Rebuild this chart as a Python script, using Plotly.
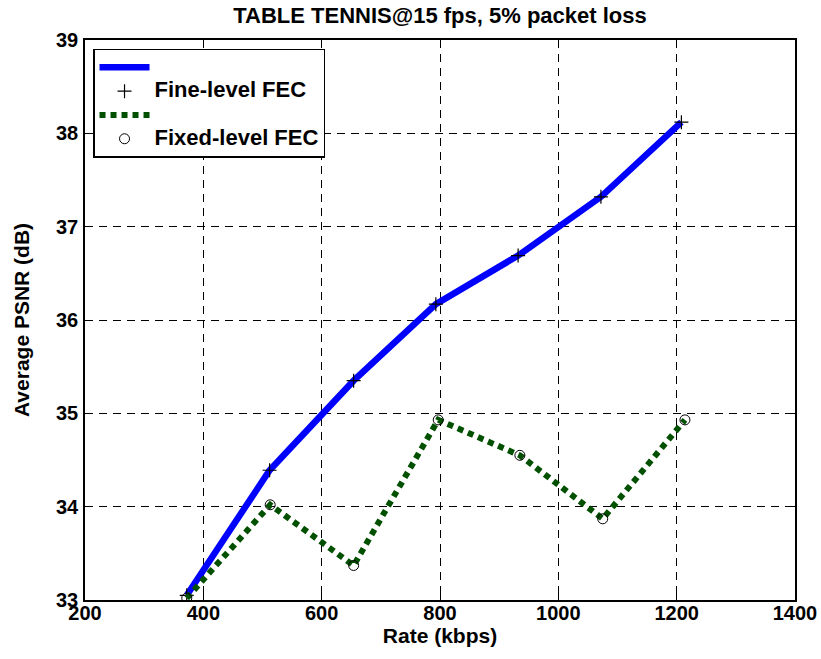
import plotly.graph_objects as go

# Data
rate_fine = [372, 512, 654, 793, 932, 1072, 1208]
psnr_fine = [33.05, 34.39, 35.35, 36.17, 36.69, 37.32, 38.12]

rate_fixed = [372, 513, 654, 797, 935, 1075, 1214]
psnr_fixed = [33.02, 34.02, 33.37, 34.93, 34.55, 33.87, 34.93]

title_text = "TABLE TENNIS@15 fps, 5% packet loss"
x_label = "Rate (kbps)"
y_label = "Average PSNR (dB)"
x_ticks = [200, 400, 600, 800, 1000, 1200, 1400]
y_ticks = [33, 34, 35, 36, 37, 38, 39]

FONT = "Liberation Sans"

fig = go.Figure()
fig.add_trace(go.Scatter(x=rate_fine, y=psnr_fine, mode="lines", name=" ",
                         line=dict(color="#0000ff", width=6.5)))
fig.add_trace(go.Scatter(x=rate_fine, y=psnr_fine, mode="markers",
                         name='<span style="font-size:22px">Fine-level FEC</span>',
                         marker=dict(symbol="cross-thin", size=10, color="black",
                                     line=dict(color="black", width=1.2))))
fig.add_trace(go.Scatter(x=rate_fixed, y=psnr_fixed, mode="lines", name=" ",
                         line=dict(color="#005000", width=6, dash="6px,5px")))
fig.add_trace(go.Scatter(x=rate_fixed, y=psnr_fixed, mode="markers",
                         name='<span style="font-size:22px">Fixed-level FEC</span>',
                         marker=dict(symbol="circle-open", size=10, color="black",
                                     line=dict(color="black", width=1))))

axis_common = dict(
    showline=True, linecolor="black", linewidth=1.5, mirror="ticks",
    ticks="inside", ticklen=7, tickcolor="black", tickwidth=1,
    showgrid=True, gridcolor="black", gridwidth=1, griddash="8px,6px",
    zeroline=False,
    tickfont=dict(family=FONT, size=20, color="black", weight="bold"),
)

fig.update_xaxes(range=[200, 1400], tickvals=x_ticks, ticklabelstandoff=-6,
                 title=dict(text=x_label, standoff=4,
                            font=dict(family=FONT, size=21, color="black", weight="bold")),
                 **axis_common)
fig.update_yaxes(range=[33, 39], tickvals=y_ticks, ticklabelstandoff=1,
                 title=dict(text=y_label, standoff=21,
                            font=dict(family=FONT, size=21, color="black", weight="bold")),
                 **axis_common)

# plot area at x 85..795, y 40..600 in the 821x659 window
fig.update_layout(
    width=821, height=659,
    margin=dict(l=85, r=26, t=40, b=59, autoexpand=False),
    paper_bgcolor="white", plot_bgcolor="white",
    title=dict(text=title_text, x=440 / 821, xanchor="center", y=1 - 15 / 659, yanchor="middle",
               font=dict(family=FONT, size=22, color="black", weight="bold")),
    legend=dict(x=0.0113, y=0.984, xanchor="left", yanchor="top",
                bordercolor="black", borderwidth=1.5, bgcolor="white",
                font=dict(family=FONT, size=16, color="black", weight="bold"),
                itemwidth=50, tracegroupgap=0),
    showlegend=True,
)

fig.write_html(
    "out.html",
    config={"displayModeBar": False},
    post_script="document.body.style.margin='0';document.body.style.overflow='hidden';",
)
